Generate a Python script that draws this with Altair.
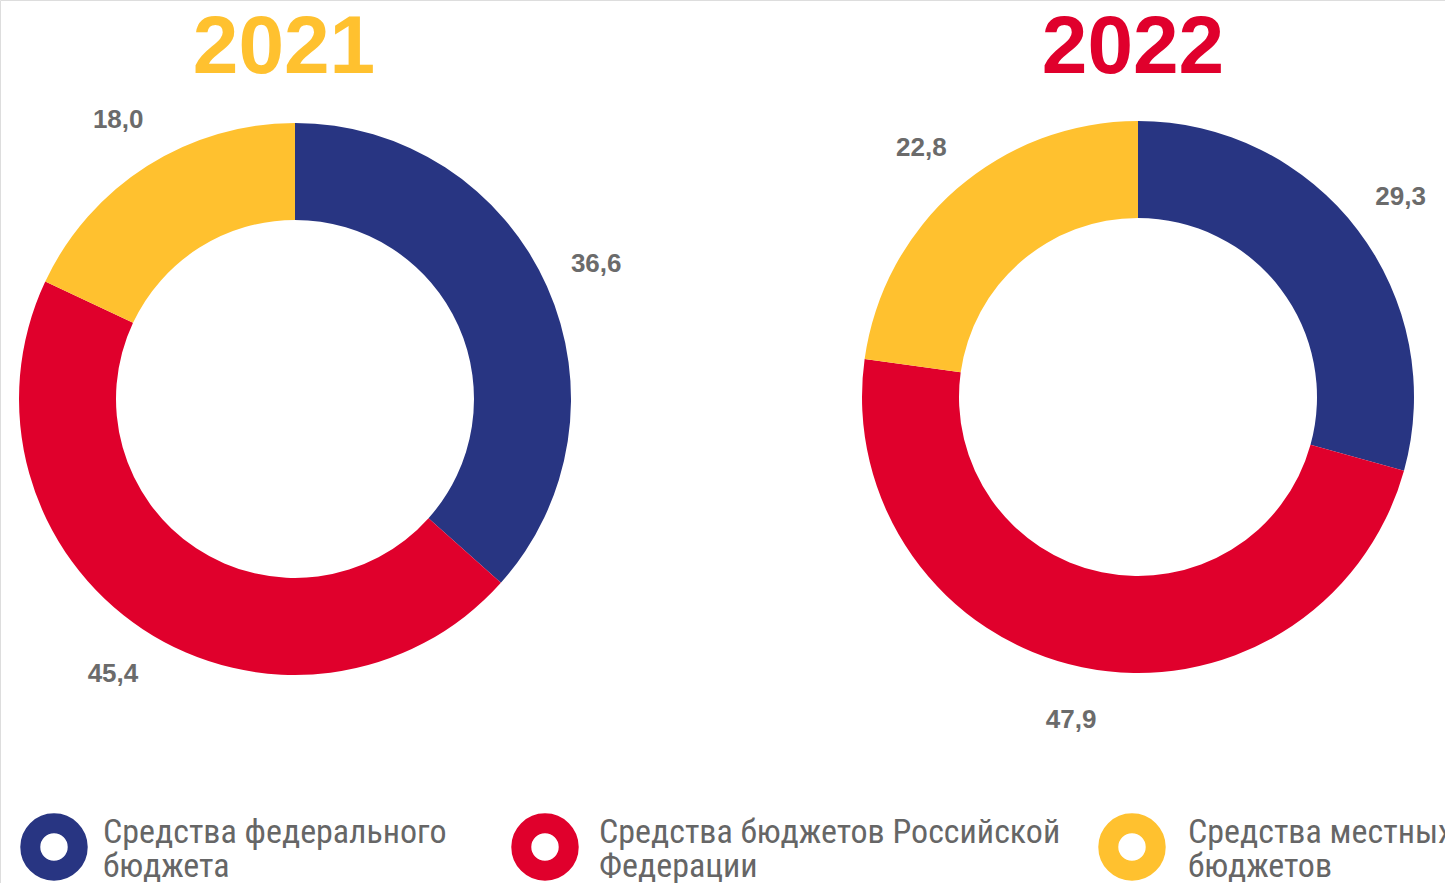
import altair as alt
import pandas as pd

years = ["2021", "2022"]
categories = [
    "Средства федерального бюджета",
    "Средства бюджетов Российской Федерации",
    "Средства местных бюджетов",
]
legend_labels = [
    "Средства федерального\nбюджета",
    "Средства бюджетов Российской\nФедерации",
    "Средства местных\nбюджетов",
]
values_2021 = [36.6, 45.4, 18.0]
values_2022 = [29.3, 47.9, 22.8]

colors = ["#283582", "#E0002C", "#FFC12F"]
year_colors = {"2021": "#FFC12F", "2022": "#E0002C"}
GRAY = "#6b6b6b"

rows = []
for yr, vals in zip(years, [values_2021, values_2022]):
    for i, (c, v) in enumerate(zip(categories, vals)):
        rows.append({"year": yr, "category": c, "value": v, "order": i})
df = pd.DataFrame(rows)

color_scale = alt.Scale(domain=categories, range=colors)

centers = {"2021": (295, 399), "2022": (1138, 397)}
title_pos = {"2021": (284, 48), "2022": (1133, 48)}

layers = []
for yr in years:
    cx, cy = centers[yr]
    base = alt.Chart(df).transform_filter(alt.datum.year == yr).transform_calculate(
        label="replace(format(datum.value, '.1f'), '.', ',')"
    ).encode(
        theta=alt.Theta("value:Q", stack=True, scale=alt.Scale(domain=[0, 100])),
        order=alt.Order("order:Q"),
        x=alt.value(cx),
        y=alt.value(cy),
    )
    arc = base.mark_arc(radius=276, radius2=179).encode(
        color=alt.Color("category:N", scale=color_scale, legend=None)
    )
    lab = base.mark_text(
        radius=330, font="Liberation Sans", fontWeight="bold", fontSize=26,
        align="center", baseline="middle"
    ).encode(text="label:N", color=alt.value(GRAY))
    tx, ty = title_pos[yr]
    title = alt.Chart(pd.DataFrame({"year": [yr]})).mark_text(
        font="Liberation Sans", fontWeight="bold", fontSize=82,
        align="center", baseline="middle", color=year_colors[yr]
    ).encode(text="year:N", x=alt.value(tx), y=alt.value(ty))
    layers += [arc, lab, title]

legend_ring_x = [54, 545, 1132]
legend_text_x = [103, 599, 1188]
leg_df = pd.DataFrame({"category": categories, "label": legend_labels})
for i, c in enumerate(categories):
    one = alt.Chart(leg_df).transform_filter(alt.datum.category == c)
    ring = one.mark_point(shape="circle", filled=False, size=2250, strokeWidth=20, opacity=1).encode(
        x=alt.value(legend_ring_x[i]), y=alt.value(847),
        color=alt.Color("category:N", scale=color_scale, legend=None),
    )
    txt = one.mark_text(
        font="Liberation Sans Narrow, Arial Narrow, Roboto Condensed, Roboto",
        fontSize=34, align="left", baseline="alphabetic", lineBreak="\n",
        lineHeight=34, color="#666666"
    ).encode(text="label:N", x=alt.value(legend_text_x[i]), y=alt.value(843))
    layers += [ring, txt]

chart = alt.layer(*layers).properties(
    width=1445, height=883, padding=0, autosize=alt.AutoSizeParams(type="none")
).configure_view(stroke=None).configure(background="white")

chart.save("out.html", embed_options={"renderer": "svg", "actions": False})
